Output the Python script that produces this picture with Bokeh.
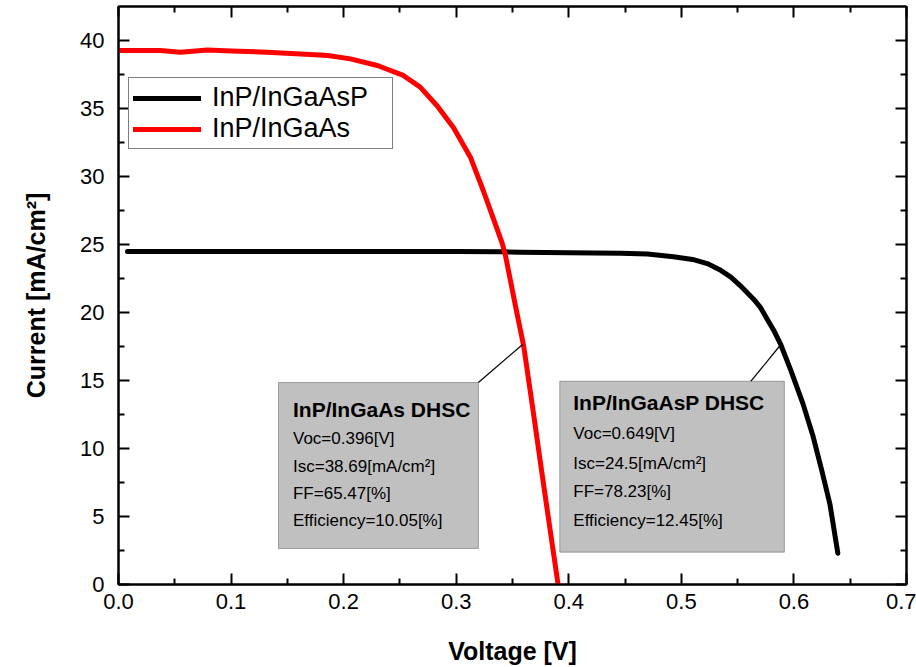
from bokeh.plotting import figure
from bokeh.models import (Range1d, FixedTicker, PrintfTickFormatter, LinearAxis,
                          Legend, LegendItem, BoxAnnotation, Label, Arrow)
from bokeh.embed import file_html
from bokeh.resources import INLINE

# ---- data ----
v_ingaasp = [0.008, 0.05, 0.10, 0.15, 0.20, 0.25, 0.30, 0.340, 0.357, 0.400, 0.446,
             0.470, 0.493, 0.510, 0.523, 0.535, 0.544, 0.552, 0.564, 0.570, 0.582,
             0.588, 0.597, 0.608, 0.617, 0.625, 0.632, 0.639]
i_ingaasp = [24.49, 24.49, 24.49, 24.49, 24.49, 24.49, 24.48, 24.47, 24.43, 24.40, 24.36,
             24.30, 24.10, 23.90, 23.60, 23.10, 22.60, 22.00, 21.00, 20.40, 18.70,
             17.70, 15.80, 13.30, 10.90, 8.30, 5.90, 2.30]

v_ingaas = [0.000, 0.037, 0.055, 0.079, 0.100, 0.132, 0.162, 0.186, 0.206, 0.230,
            0.253, 0.268, 0.283, 0.2975, 0.3126, 0.324, 0.333, 0.3408, 0.3437,
            0.3526, 0.3600, 0.3679, 0.3763, 0.3852, 0.3905]
i_ingaas = [39.26, 39.26, 39.14, 39.30, 39.22, 39.14, 39.00, 38.90, 38.65, 38.16,
            37.43, 36.57, 35.20, 33.60, 31.42, 28.97, 26.90, 25.10, 24.20,
            20.50, 17.50, 13.00, 8.10, 3.00, 0.00]

series_names = ["InP/InGaAsP", "InP/InGaAs"]
x_ticks = [0.0, 0.1, 0.2, 0.3, 0.4, 0.5, 0.6, 0.7]
x_minor = [0.05, 0.15, 0.25, 0.35, 0.45, 0.55, 0.65]
y_ticks = [0, 5, 10, 15, 20, 25, 30, 35, 40]
y_minor = [2.5, 7.5, 12.5, 17.5, 22.5, 27.5, 32.5, 37.5]

box_ingaas = ["InP/InGaAs DHSC", "Voc=0.396[V]", "Isc=38.69[mA/cm\u00b2]",
              "FF=65.47[%]", "Efficiency=10.05[%]"]
box_ingaasp = ["InP/InGaAsP DHSC", "Voc=0.649[V]", "Isc=24.5[mA/cm\u00b2]",
               "FF=78.23[%]", "Efficiency=12.45[%]"]

FONT = "Liberation Sans"

p = figure(width=916, height=667, output_backend="svg", toolbar_location=None,
           x_range=Range1d(0, 0.7), y_range=Range1d(0, 42.5),
           min_border_left=118, min_border_right=10, min_border_top=6,
           min_border_bottom=83, background_fill_color="white",
           border_fill_color="white")
p.xgrid.visible = False
p.ygrid.visible = False
p.outline_line_color = "black"
p.outline_line_width = 2

xt = FixedTicker(ticks=x_ticks, minor_ticks=x_minor)
yt = FixedTicker(ticks=y_ticks, minor_ticks=y_minor)


def style_axis(ax, show_labels):
    ax.axis_line_width = 2
    ax.axis_line_color = "black"
    ax.major_tick_line_width = 2
    ax.minor_tick_line_width = 2
    ax.major_tick_in = 11
    ax.major_tick_out = 0
    ax.minor_tick_in = 6
    ax.minor_tick_out = 0
    if show_labels:
        ax.major_label_text_font = FONT
        ax.major_label_text_font_size = "22px"
        ax.major_label_text_color = "black"
        ax.axis_label_text_font = FONT
        ax.axis_label_text_font_size = "25px"
        ax.axis_label_text_font_style = "bold"
        ax.axis_label_text_color = "black"
    else:
        ax.major_label_text_font_size = "1px"
        ax.major_label_text_color = None
        ax.major_label_standoff = 0


p.xaxis.ticker = xt
p.yaxis.ticker = yt
p.xaxis.formatter = PrintfTickFormatter(format="%.1f")
p.yaxis.formatter = PrintfTickFormatter(format="%d")
style_axis(p.xaxis[0], True)
style_axis(p.yaxis[0], True)
p.xaxis.major_label_standoff = 9
p.yaxis.major_label_standoff = 14
p.xaxis.axis_label = "Voltage [V]"
p.yaxis.axis_label = "Current [mA/cm\u00b2]"
p.xaxis.axis_label_standoff = 25
p.yaxis.axis_label_standoff = 27

top_ax = LinearAxis(ticker=xt)
style_axis(top_ax, False)
p.add_layout(top_ax, "above")
right_ax = LinearAxis(ticker=yt)
style_axis(right_ax, False)
p.add_layout(right_ax, "right")

r1 = p.line(v_ingaasp, i_ingaasp, line_color="black", line_width=5, line_cap="round",
            line_join="round")
r2 = p.line(v_ingaas, i_ingaas, line_color="red", line_width=5, line_cap="round",
            line_join="round")

legend = Legend(items=[LegendItem(label=series_names[0], renderers=[r1]),
                       LegendItem(label=series_names[1], renderers=[r2])],
                location=(10, 435))
legend.label_text_font = FONT
legend.label_text_font_size = "27px"
legend.label_text_color = "black"
legend.glyph_width = 68
legend.glyph_height = 30
legend.label_standoff = 11
legend.padding = 4
legend.spacing = 0
legend.margin = 0
legend.label_width = 176
legend.border_line_color = "black"
legend.border_line_width = 1
legend.background_fill_color = "white"
legend.background_fill_alpha = 1
p.add_layout(legend, "center")


def callout(lines, left, right, top, bottom, tx, ty_list, lead):
    p.add_layout(BoxAnnotation(left=left, right=right, top=top, bottom=bottom,
                               fill_color="#c0c0c0", fill_alpha=1,
                               line_color="black", line_width=1, level="annotation"))
    p.add_layout(Arrow(end=None, x_start=lead[0], y_start=lead[1],
                       x_end=lead[2], y_end=lead[3],
                       line_color="black", line_width=1.2))
    for k, (txt, ty) in enumerate(zip(lines, ty_list)):
        p.add_layout(Label(x=tx, y=ty, text=txt, text_font=FONT,
                           text_font_size="21px" if k == 0 else "17px",
                           text_font_style="bold" if k == 0 else "normal",
                           text_baseline="middle", text_align="left",
                           text_color="black"))


callout(box_ingaas, 0.1421, 0.3197, 14.85, 2.65, 0.155,
        [12.85, 10.74, 8.70, 6.69, 4.67], (0.3197, 14.85, 0.359, 17.65))
callout(box_ingaasp, 0.3920, 0.5915, 14.95, 2.375, 0.404,
        [13.38, 11.10, 8.92, 6.84, 4.71], (0.5618, 14.95, 0.587, 17.5))

open("out.html", "w").write(file_html(p, INLINE))
